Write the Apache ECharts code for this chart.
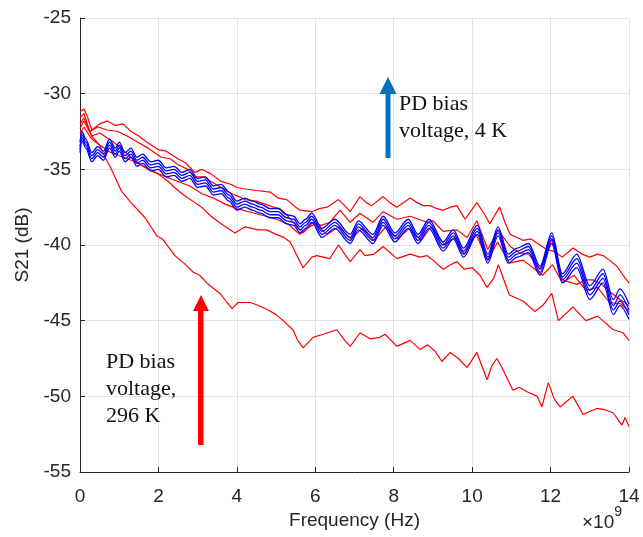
<!DOCTYPE html>
<html><head><meta charset="utf-8">
<script src="https://cdn.jsdelivr.net/npm/echarts@6/dist/echarts.min.js"></script>
<style>html,body{margin:0;padding:0;background:#fff}#c{width:643px;height:537px}</style>
</head><body><div id="c"></div>
<script>
// x tick values (GHz, axis label multiplied by 1e9)
const xTicks = [0, 2, 4, 6, 8, 10, 12, 14];
const yTicks = [-55, -50, -45, -40, -35, -30, -25];

// 296 K curves (red): [frequency in 1e9 Hz, S21 dB]
const redTop = [[0,-31.2],[0.1,-31.0],[0.2,-31.6],[0.3,-32.4],[0.5,-32.0],[0.7,-31.8],[0.9,-32.1],[1.1,-32.0],[1.3,-32.5],[1.5,-32.8],[1.7,-33.2],[2.0,-33.7],[2.2,-33.8],[2.5,-34.3],[2.7,-34.6],[2.93,-35.2],[3.1,-35.0],[3.34,-35.3],[3.6,-35.8],[3.86,-36.0],[4.0,-36.2],[4.21,-36.3],[4.5,-36.4],[4.85,-36.5],[5.05,-36.9],[5.27,-37.0],[5.45,-37.4],[5.61,-37.7],[5.91,-37.8],[6.1,-37.6],[6.3,-37.5],[6.59,-37.0],[6.75,-37.4],[6.89,-37.8],[7.14,-36.8],[7.3,-37.2],[7.44,-37.4],[7.73,-36.8],[7.9,-37.2],[8.08,-37.5],[8.42,-36.9],[8.6,-37.2],[8.75,-37.4],[8.93,-37.4],[9.1,-37.6],[9.26,-37.7],[9.45,-37.5],[9.61,-37.4],[9.82,-38.3],[10.12,-37.2],[10.3,-37.9],[10.45,-38.6],[10.7,-37.5],[10.85,-38.6],[10.97,-39.3],[11.15,-39.5],[11.3,-39.7],[11.5,-39.6],[11.73,-40.0],[11.9,-40.3],[12.06,-40.4],[12.3,-40.8],[12.57,-40.2],[12.8,-40.6],[13.0,-40.8],[13.2,-40.6],[13.34,-40.7],[13.5,-41.0],[13.69,-41.4],[13.85,-42.0],[14.0,-42.5]];
const red2 = [[0,-31.6],[0.1,-31.3],[0.25,-32.5],[0.46,-32.2],[0.7,-32.4],[0.97,-32.5],[1.2,-32.8],[1.4,-33.1],[1.74,-33.6],[2.07,-34.2],[2.3,-34.3],[2.5,-34.7],[2.75,-35.0],[2.93,-35.5],[3.15,-35.5],[3.34,-35.8],[3.6,-36.2],[3.86,-36.6],[4.05,-36.8],[4.21,-37.0],[4.5,-37.1],[4.93,-37.5],[5.1,-37.6],[5.27,-38.0],[5.5,-38.7],[5.69,-39.2],[5.94,-38.5],[6.15,-38.7],[6.37,-38.5],[6.63,-37.7],[6.89,-38.5],[7.14,-37.9],[7.47,-38.5],[7.73,-37.8],[8.08,-38.3],[8.42,-38.1],[8.85,-38.5],[9.0,-38.4],[9.26,-39.1],[9.61,-39.0],[9.87,-39.5],[10.12,-38.4],[10.4,-40.3],[10.66,-39.0],[10.97,-40.1],[11.2,-40.5],[11.44,-40.6],[11.73,-41.6],[12.03,-39.6],[12.3,-42.3],[12.67,-42.6],[12.9,-42.3],[13.09,-42.3],[13.3,-42.6],[13.52,-43.1],[13.77,-43.6],[14.0,-44.0]];
const red3 = [[0,-32.0],[0.1,-31.6],[0.3,-32.8],[0.5,-32.6],[0.8,-33.1],[1.0,-33.5],[1.3,-34.2],[1.6,-34.8],[1.9,-35.2],[2.2,-35.5],[2.5,-35.8],[2.8,-36.1],[3.1,-36.6],[3.4,-36.9],[3.7,-37.3],[4.0,-37.6],[4.3,-37.8],[4.6,-38.0],[5.0,-38.3],[5.3,-38.6],[5.6,-39.3],[5.8,-38.9],[6.0,-38.6],[6.3,-39.3],[6.6,-38.8],[6.9,-39.6],[7.2,-38.9],[7.5,-39.7],[7.8,-38.8],[8.1,-39.6],[8.4,-38.9],[8.7,-39.7],[8.95,-38.8],[9.3,-40.0],[9.55,-39.5],[9.8,-40.6],[10.1,-39.3],[10.4,-41.0],[10.65,-39.8],[10.95,-41.2],[11.3,-41.0],[11.6,-41.6],[11.8,-42.0],[12.05,-41.3],[12.3,-42.5],[12.6,-42.0],[12.9,-43.0],[13.2,-42.8],[13.5,-43.8],[13.8,-43.9],[14.0,-44.4]];
const redMid = [[0,-32.3],[0.1,-31.8],[0.3,-32.8],[0.5,-33.4],[0.79,-33.9],[1.1,-34.2],[1.4,-34.5],[1.7,-34.9],[1.99,-35.3],[2.25,-35.8],[2.5,-36.4],[2.7,-36.8],[2.93,-37.2],[3.1,-37.5],[3.34,-38.1],[3.6,-38.6],[3.95,-39.2],[4.21,-38.8],[4.54,-39.0],[4.76,-39.0],[5.0,-39.3],[5.2,-39.5],[5.36,-39.8],[5.55,-40.8],[5.69,-41.5],[5.91,-40.8],[6.04,-40.7],[6.37,-40.9],[6.59,-40.0],[6.75,-40.6],[6.89,-41.1],[7.14,-40.3],[7.27,-40.7],[7.5,-40.6],[7.73,-40.1],[8.08,-40.9],[8.42,-40.6],[8.67,-40.8],[8.85,-40.7],[9.0,-41.0],[9.26,-41.6],[9.45,-41.3],[9.61,-41.1],[9.8,-41.6],[10.0,-41.5],[10.2,-42.0],[10.38,-42.8],[10.55,-42.2],[10.67,-41.3],[10.95,-43.3],[11.3,-43.7],[11.6,-44.4],[11.8,-44.0],[12.03,-43.2],[12.2,-45.0],[12.57,-44.1],[12.9,-45.0],[13.2,-44.7],[13.6,-45.6],[13.85,-45.8],[14.0,-46.3]];
const redLow = [[0,-32.6],[0.1,-32.2],[0.3,-33.0],[0.5,-33.4],[0.6,-34.0],[0.8,-35.0],[1.05,-36.4],[1.3,-37.2],[1.66,-38.2],[1.96,-39.4],[2.1,-39.6],[2.42,-40.7],[2.65,-41.2],[2.89,-41.8],[3.05,-42.0],[3.27,-42.6],[3.57,-43.2],[3.75,-43.8],[3.88,-44.2],[4.03,-43.8],[4.34,-43.8],[4.55,-44.0],[4.8,-44.3],[5.0,-44.6],[5.18,-45.0],[5.43,-45.6],[5.55,-46.3],[5.69,-46.8],[5.94,-46.1],[6.2,-45.9],[6.55,-45.6],[6.75,-46.3],[6.89,-46.7],[7.14,-45.8],[7.4,-46.2],[7.65,-46.1],[7.78,-45.9],[8.08,-46.7],[8.42,-46.3],[8.67,-46.9],[8.87,-46.6],[9.05,-47.0],[9.23,-47.7],[9.44,-47.1],[9.65,-47.5],[9.87,-48.1],[10.12,-47.1],[10.25,-48.0],[10.38,-48.9],[10.5,-48.0],[10.63,-47.5],[10.76,-48.1],[11.04,-49.6],[11.2,-49.4],[11.4,-49.7],[11.66,-50.0],[11.78,-50.7],[11.94,-49.1],[12.1,-50.2],[12.24,-50.7],[12.57,-50.0],[12.83,-51.2],[13.0,-51.0],[13.18,-50.8],[13.4,-50.9],[13.6,-51.1],[13.82,-51.9],[13.9,-51.4],[14.0,-52.0]];

// 4 K curves (blue), shared frequency samples
const freqBlue = [0,0.05,0.15,0.3,0.45,0.6,0.75,0.9,1.0,1.15,1.3,1.45,1.6,1.8,2.0,2.2,2.4,2.6,2.8,3.0,3.2,3.4,3.6,3.8,4.0,4.2,4.4,4.6,4.85,5.05,5.27,5.45,5.61,5.75,5.91,6.17,6.5,6.89,7.1,7.47,7.73,8.03,8.37,8.62,8.9,9.26,9.52,9.78,10.13,10.4,10.66,10.92,11.15,11.44,11.73,12.03,12.3,12.67,13.0,13.34,13.6,13.77,14.0];
const blue1 = [-33.2,-32.5,-33.0,-33.9,-33.5,-33.8,-33.0,-33.6,-33.2,-33.9,-33.6,-34.2,-34.0,-34.5,-34.4,-34.9,-34.8,-35.2,-35.0,-35.6,-35.5,-36.1,-36.0,-36.5,-37.1,-36.9,-37.1,-37.3,-37.6,-37.6,-38.0,-38.1,-38.6,-38.3,-37.9,-38.9,-38.3,-39.3,-38.4,-39.3,-38.1,-39.2,-38.3,-39.3,-38.3,-39.8,-39.0,-40.2,-38.7,-40.6,-38.8,-40.6,-40.2,-39.9,-41.4,-39.2,-41.9,-40.6,-42.7,-41.6,-43.6,-42.9,-43.9];
const blue2 = [-33.5,-32.7,-33.2,-34.1,-33.7,-34.0,-33.2,-33.8,-33.4,-34.1,-33.8,-34.4,-34.2,-34.7,-34.6,-35.1,-35.0,-35.4,-35.2,-35.8,-35.7,-36.3,-36.2,-36.7,-37.3,-37.1,-37.3,-37.5,-37.8,-37.8,-38.2,-38.3,-38.8,-38.5,-38.1,-39.1,-38.5,-39.5,-38.6,-39.5,-38.3,-39.4,-38.5,-39.5,-38.5,-40.0,-39.2,-40.4,-38.9,-40.8,-39.0,-40.8,-40.4,-40.1,-41.6,-39.4,-42.1,-40.9,-43.0,-41.9,-44.0,-43.3,-44.3];
const blue3 = [-33.7,-32.9,-33.4,-34.3,-33.9,-34.2,-33.4,-34.0,-33.6,-34.3,-34.0,-34.6,-34.4,-34.9,-34.8,-35.3,-35.2,-35.6,-35.4,-36.0,-35.9,-36.5,-36.4,-36.9,-37.5,-37.3,-37.5,-37.7,-38.0,-38.0,-38.4,-38.5,-39.0,-38.7,-38.3,-39.3,-38.7,-39.7,-38.8,-39.7,-38.5,-39.6,-38.7,-39.7,-38.7,-40.2,-39.4,-40.6,-39.1,-41.0,-39.2,-41.0,-40.6,-40.3,-41.8,-39.6,-42.3,-41.2,-43.3,-42.2,-44.3,-43.7,-44.6];
const blue4 = [-33.9,-33.1,-33.6,-34.5,-34.1,-34.4,-33.6,-34.2,-33.8,-34.5,-34.2,-34.8,-34.6,-35.1,-35.0,-35.5,-35.4,-35.8,-35.6,-36.2,-36.1,-36.7,-36.6,-37.1,-37.7,-37.5,-37.7,-37.9,-38.2,-38.2,-38.6,-38.7,-39.2,-38.9,-38.5,-39.5,-38.9,-39.9,-39.0,-39.9,-38.7,-39.8,-38.9,-39.9,-38.9,-40.4,-39.6,-40.8,-39.3,-41.2,-39.4,-41.2,-40.8,-40.5,-42.0,-39.9,-42.5,-41.5,-43.6,-42.5,-44.6,-44.0,-44.9];

const redCurves = [redTop, red2, red3, redMid, redLow];
const blueCurves = [blue1, blue2, blue3, blue4];

const chart = echarts.init(document.getElementById('c'), null, {renderer: 'canvas'});
const axisColor = '#262626';
const labelFont = {fontSize: 19, color: axisColor, fontFamily: '"Liberation Sans", Arial, sans-serif'};
const series = [];
redCurves.forEach(function (c, i) {
  series.push({type: 'line', name: 'red' + i, data: c, showSymbol: false, symbol: 'none',
    lineStyle: {color: '#ff0000', width: 1.2}, z: 2});
});
blueCurves.forEach(function (c, i) {
  series.push({type: 'line', name: 'blue' + i, data: freqBlue.map(function (f, k) { return [f, c[k]]; }),
    showSymbol: false, symbol: 'none', smooth: 0.3, smoothMonotone: 'x',
    lineStyle: {color: '#0000ff', width: 1.3}, z: 3});
});

const serif = '22px "Liberation Serif", "Times New Roman", serif';
chart.setOption({
  animation: false,
  backgroundColor: '#ffffff',
  grid: {left: 80, right: 14, top: 18, bottom: 65, containLabel: false},
  xAxis: {
    type: 'value', min: xTicks[0], max: xTicks[xTicks.length - 1], interval: 2,
    axisLine: {show: true, onZero: false, lineStyle: {color: axisColor, width: 1}},
    axisTick: {show: true, inside: true, length: 5, lineStyle: {color: axisColor}},
    axisLabel: Object.assign({margin: 15}, labelFont),
    splitLine: {show: true, lineStyle: {color: '#e3e3e3', width: 1}},
    name: 'Frequency (Hz)', nameLocation: 'middle', nameGap: 39,
    nameTextStyle: labelFont
  },
  yAxis: {
    type: 'value', min: yTicks[0], max: yTicks[yTicks.length - 1], interval: 5,
    axisLine: {show: true, onZero: false, lineStyle: {color: axisColor, width: 1}},
    axisTick: {show: true, inside: true, length: 5, lineStyle: {color: axisColor}},
    axisLabel: Object.assign({margin: 9}, labelFont),
    splitLine: {show: true, lineStyle: {color: '#e3e3e3', width: 1}},
    name: 'S21 (dB)', nameLocation: 'middle', nameGap: 47, nameRotate: 90,
    nameTextStyle: labelFont
  },
  series: series,
  graphic: [
    {type: 'rect', z: 100, shape: {x: 385.5, y: 92, width: 5, height: 66}, style: {fill: '#0070c0'}},
    {type: 'polygon', z: 100, shape: {points: [[379.5, 94], [396.5, 94], [388, 77]]}, style: {fill: '#0070c0'}},
    {type: 'rect', z: 100, shape: {x: 198, y: 309, width: 5.5, height: 136}, style: {fill: '#ff0000'}},
    {type: 'polygon', z: 100, shape: {points: [[193, 311], [209, 311], [201, 295]]}, style: {fill: '#ff0000'}},
    {type: 'text', z: 100, left: 399, top: 91, style: {text: 'PD bias\nvoltage, 4 K', font: serif, lineHeight: 27, fill: '#111'}},
    {type: 'text', z: 100, left: 106, top: 349, style: {text: 'PD bias\nvoltage,\n296 K', font: serif, lineHeight: 27, fill: '#111'}},
    {type: 'text', z: 100, left: 582, top: 505, style: {
      text: '{b|×10}{s|9}', rich: {
        b: {fontSize: 19, fontFamily: '"Liberation Sans", Arial', fill: axisColor, padding: [8, 0, 0, 0]},
        s: {fontSize: 14, fontFamily: '"Liberation Sans", Arial', fill: axisColor, verticalAlign: 'top'}
      }}}
  ]
});
</script>
</body></html>
